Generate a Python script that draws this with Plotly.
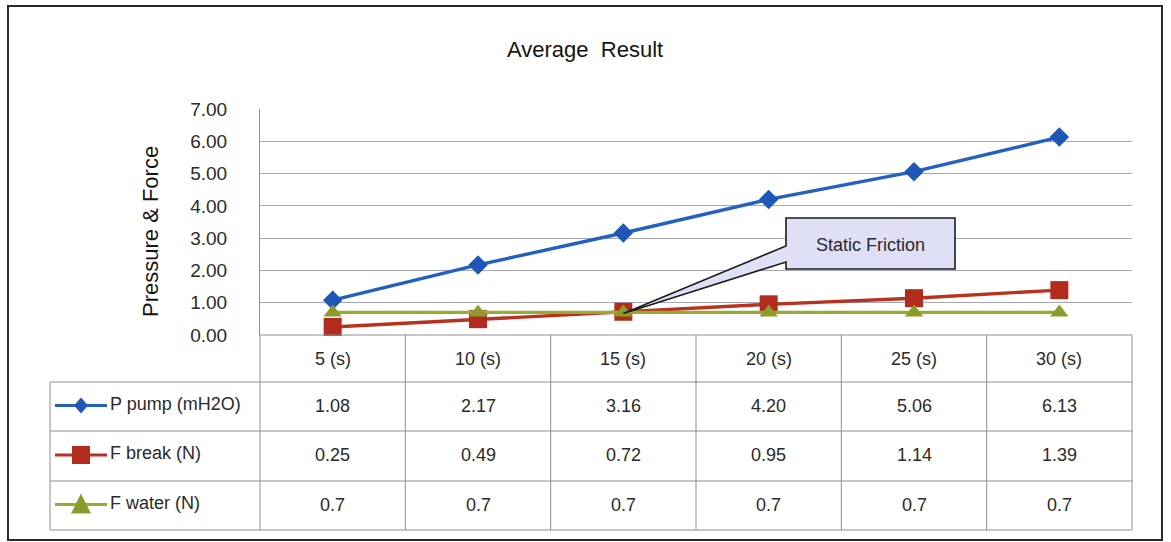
import plotly.graph_objects as go

# ---- data -------------------------------------------------------------
categories = ["5 (s)", "10 (s)", "15 (s)", "20 (s)", "25 (s)", "30 (s)"]
series_names = ["P pump (mH2O)", "F break (N)", "F water (N)"]
p_pump = [1.08, 2.17, 3.16, 4.20, 5.06, 6.13]
f_break = [0.25, 0.49, 0.72, 0.95, 1.14, 1.39]
f_water = [0.7, 0.7, 0.7, 0.7, 0.7, 0.7]
value_formats = ["{:.2f}", "{:.2f}", "{:g}"]
y_ticks = [0, 1, 2, 3, 4, 5, 6, 7]
callout_text = "Static Friction"
callout_index = 2  # points at the 15 (s) value of F water

series_values = [p_pump, f_break, f_water]

# ---- styling ----------------------------------------------------------
W, H = 1171, 542
PL, PR, PT, PB = 260, 1132, 109, 335          # plot area in pixels
FONT = "Arial, Liberation Sans, sans-serif"
TXT = "#2a2a2a"
GRID = "#a3a4b8"
TABLE_LINE = "#8f8f8f"
colors = ["#1f57b6", "#b22b1c", "#8c9c2c"]
line_colors = ["#2460c0", "#b8321f", "#98aa32"]
symbols = ["diamond", "square", "triangle-up"]
marker_sizes = [15, 18, 16]

Y_MAX = 7


def fx(x):
    """pixel x -> paper x"""
    return (x - PL) / (PR - PL)


def fy(y):
    """pixel y -> paper y"""
    return (PB - y) / (PB - PT)


def path(points, close=True):
    s = "M " + " L ".join(f"{fx(x):.5f},{fy(y):.5f}" for x, y in points)
    return s + (" Z" if close else "")


fig = go.Figure()

xs = list(range(len(categories)))
for name, vals, c, lc, sym, ms in zip(series_names, series_values, colors,
                                      line_colors, symbols, marker_sizes):
    fig.add_trace(go.Scatter(
        x=xs, y=vals, name=name, mode="lines+markers",
        line=dict(color=lc, width=3.4),
        marker=dict(symbol=sym, size=ms, color=c, line=dict(width=0)),
        cliponaxis=False, showlegend=False,
    ))

shapes = []
annotations = []

# outer chart frame
shapes.append(dict(type="rect", xref="paper", yref="paper",
                   x0=fx(8), x1=fx(1162), y0=fy(6), y1=fy(540),
                   line=dict(color="#2a2a2a", width=2), layer="below"))

# ---- data table under the plot ----------------------------------------
n = len(categories)
col_w = (PR - PL) / n
col_edges = [PL + i * col_w for i in range(n + 1)]
row_edges = [PB, 382, 431, 481, 530]   # header row + one row per series
KEY_L = 50

line_style = dict(color=TABLE_LINE, width=1)
# horizontal rules
shapes.append(dict(type="line", xref="paper", yref="paper",
                   x0=fx(PL), x1=fx(PR), y0=fy(PB), y1=fy(PB), line=line_style))
for yy in row_edges[1:]:
    shapes.append(dict(type="line", xref="paper", yref="paper",
                       x0=fx(KEY_L), x1=fx(PR), y0=fy(yy), y1=fy(yy),
                       line=line_style))
# vertical rules
for xx in col_edges:
    shapes.append(dict(type="line", xref="paper", yref="paper",
                       x0=fx(xx), x1=fx(xx), y0=fy(PB), y1=fy(row_edges[-1]),
                       line=line_style))
shapes.append(dict(type="line", xref="paper", yref="paper",
                   x0=fx(KEY_L), x1=fx(KEY_L), y0=fy(row_edges[1]),
                   y1=fy(row_edges[-1]), line=line_style))

# header cells
for i, cat in enumerate(categories):
    annotations.append(dict(
        x=fx(col_edges[i] + col_w / 2), y=fy((row_edges[0] + row_edges[1]) / 2),
        xref="paper", yref="paper", text=cat, showarrow=False,
        font=dict(family=FONT, size=18, color=TXT),
        xanchor="center", yanchor="middle"))

# value cells and legend keys
for r, (name, vals, fmt) in enumerate(zip(series_names, series_values, value_formats)):
    yc = (row_edges[r + 1] + row_edges[r + 2]) / 2 - 1
    for i, v in enumerate(vals):
        annotations.append(dict(
            x=fx(col_edges[i] + col_w / 2), y=fy(yc),
            xref="paper", yref="paper", text=fmt.format(v), showarrow=False,
            font=dict(family=FONT, size=18, color=TXT),
            xanchor="center", yanchor="middle"))
    annotations.append(dict(
        x=fx(108), y=fy(yc - 2), xref="paper", yref="paper", text=name,
        showarrow=False, font=dict(family=FONT, size=18, color=TXT),
        xanchor="left", yanchor="middle"))
    # key line
    ky = yc
    shapes.append(dict(type="line", xref="paper", yref="paper",
                       x0=fx(55), x1=fx(107), y0=fy(ky), y1=fy(ky),
                       line=dict(color=line_colors[r], width=3)))
    kx = 81
    if symbols[r] == "diamond":
        pts = [(kx, ky - 8), (kx + 7, ky), (kx, ky + 8), (kx - 7, ky)]
    elif symbols[r] == "square":
        pts = [(kx - 9, ky - 9), (kx + 9, ky - 9), (kx + 9, ky + 9), (kx - 9, ky + 9)]
    else:
        pts = [(kx, ky - 11), (kx + 10, ky + 9), (kx - 10, ky + 9)]
    shapes.append(dict(type="path", xref="paper", yref="paper", path=path(pts),
                       fillcolor=colors[r], line=dict(width=0)))

# ---- callout ----------------------------------------------------------
tip_x = PL + (callout_index + 0.5) * col_w
tip_y = PB - f_water[callout_index] / Y_MAX * (PB - PT) + 1
box = [(786, 218), (955, 218), (955, 269), (786, 269), (786, 262),
       (tip_x, tip_y), (786, 246)]
shapes.append(dict(type="path", xref="paper", yref="paper", path=path(box),
                   fillcolor="#dfe0f6", line=dict(color="#1c1c1c", width=1.6),
                   layer="above"))
annotations.append(dict(x=fx(870), y=fy(245), xref="paper", yref="paper",
                        text=callout_text, showarrow=False,
                        font=dict(family=FONT, size=18, color=TXT),
                        xanchor="center", yanchor="middle"))

# ---- titles -----------------------------------------------------------
annotations.append(dict(x=fx(585), y=fy(50), xref="paper", yref="paper",
                        text="Average  Result", showarrow=False,
                        font=dict(family=FONT, size=22, color="#141414"),
                        xanchor="center", yanchor="middle"))
annotations.append(dict(x=fx(150), y=fy(232), xref="paper", yref="paper",
                        text="Pressure & Force", showarrow=False, textangle=-90,
                        font=dict(family=FONT, size=22, color="#141414"),
                        xanchor="center", yanchor="middle"))

fig.update_layout(
    width=W, height=H, autosize=False,
    margin=dict(l=PL, r=W - PR, t=PT, b=H - PB, pad=0),
    paper_bgcolor="white", plot_bgcolor="white",
    xaxis=dict(range=[-0.5, n - 0.5], showticklabels=False, showgrid=False,
               zeroline=False, showline=False, fixedrange=True),
    yaxis=dict(range=[0, Y_MAX], tickvals=y_ticks, tickformat=".2f",
               showgrid=True, gridcolor=GRID, gridwidth=1.2, zeroline=False,
               showline=True, linecolor=TABLE_LINE, linewidth=1,
               ticks="", ticklabelstandoff=28,
               tickfont=dict(family=FONT, size=19, color=TXT), fixedrange=True),
    shapes=shapes, annotations=annotations,
)

fig.write_html("out.html")
